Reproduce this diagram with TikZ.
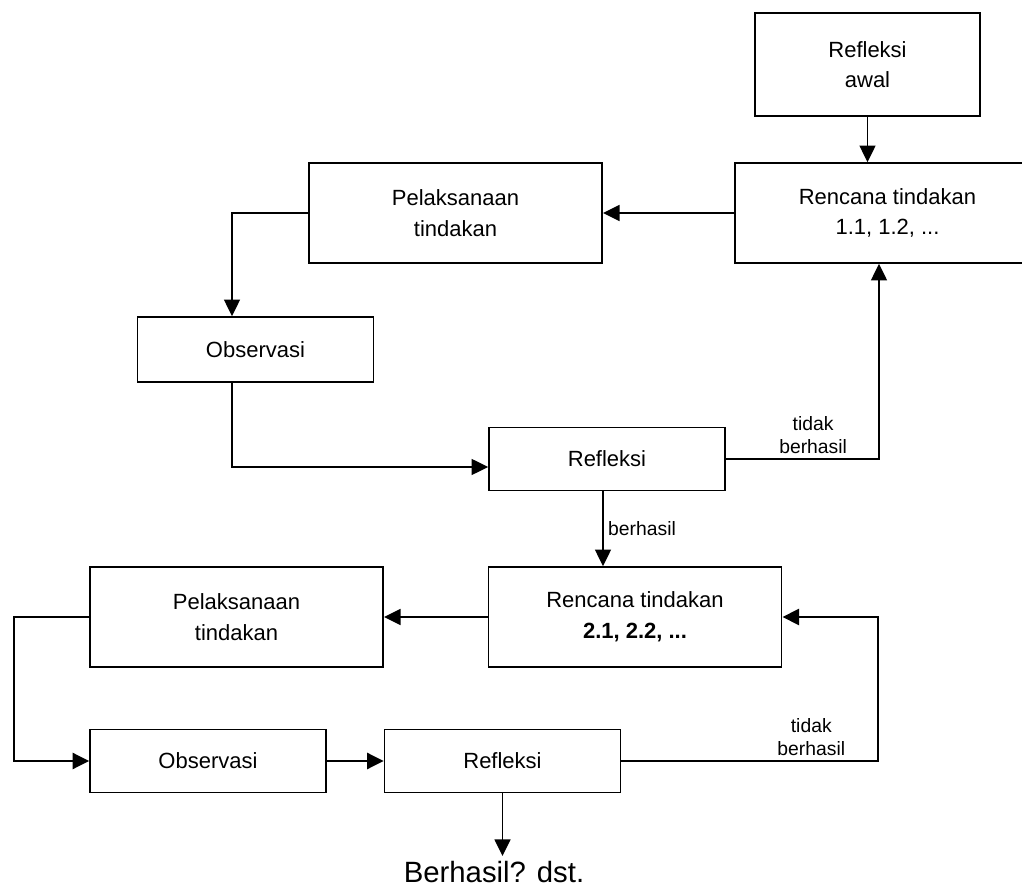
\documentclass[tikz,border=0pt]{standalone}
\usepackage{fontspec}
\setmainfont{Liberation Sans}
\usetikzlibrary{arrows.meta}

\begin{document}
\begin{tikzpicture}[x=0.75pt, y=-0.75pt, font=\fontsize{16.5}{23}\selectfont, line width=1.2pt, >={Triangle[length=12.5pt, width=12pt]}, big/.style = {draw, align=center, minimum width=220pt, minimum height=75pt}, small/.style = {draw, align=center, minimum width=177pt, minimum height=47pt}, lbl/.style = {font=\fontsize{14.5}{17}\selectfont, align=center}, thicc/.style = {line width=2pt}]
                \useasboundingbox (0,0) rectangle (1022,887);
                \node[big, minimum width=168.75pt, minimum height=77.25pt] (awal) at (867.5,64.5) {Refleksi\\awal};
                \node[big, minimum width=228.75pt] (ren1) at (887.5,213) {Rencana tindakan\\1.1, 1.2, ...};
                \node[big] (pel1) at (455.5,213) {Pelaksanaan\\tindakan};
                \node[small, minimum height=48.75pt] (obs1) at (255.5,349.5) {Observasi};
                \node[small] (ref1) at (607,459) {Refleksi};
                \node[big] (ren2) at (635,617) {Rencana tindakan\\\textbf{2.1, 2.2, ...}};
                \node[big] (pel2) at (236.5,617) {Pelaksanaan\\tindakan};
                \node[small] (obs2) at (208,761) {Observasi};
                \node[small] (ref2) at (502.5,761) {Refleksi};
                \node[font=\fontsize{22}{26}\selectfont] (lanjut) at (494,872) {Berhasil? dst.};
                \coordinate (k1) at (232,213);
                \coordinate (k2) at (879,459);
                \coordinate (k3) at (14,700);
                \coordinate (k4) at (878,700);
                \draw[->] (awal.south) -- (awal.south |- ren1.north);
                \draw[->] (ren1.west) -- (pel1.east);
                \draw[->] (pel1.west) -- (k1) -- (k1 |- obs1.north);
                \draw[->] (k1 |- obs1.south) |- ([yshift=-6pt]ref1.west);
                \draw[->] (ref1.east) -- node[lbl, above, pos=0.57] {tidak\\berhasil} (k2) -- (k2 |- ren1.south);
                \draw[->] ([xshift=-3pt]ref1.south) -- node[lbl, right, midway] {berhasil} ([xshift=-3pt]ref1.south |- ren2.north);
                \draw[->] (ren2.west) -- (pel2.east);
                \draw[->, thicc] (pel2.west) -| (k3) |- (obs2.west);
                \draw[->, thicc] (obs2.east) -- (ref2.west);
                \draw[->, thicc] (ref2.east) -- node[lbl, above, pos=0.74] {tidak\\berhasil} (ref2.east -| k4) -- (k4 |- ren2.east) -- (ren2.east);
                \draw[->] (ref2.south) -- (ref2.south |- lanjut.north);
            \end{tikzpicture}
\end{document}
